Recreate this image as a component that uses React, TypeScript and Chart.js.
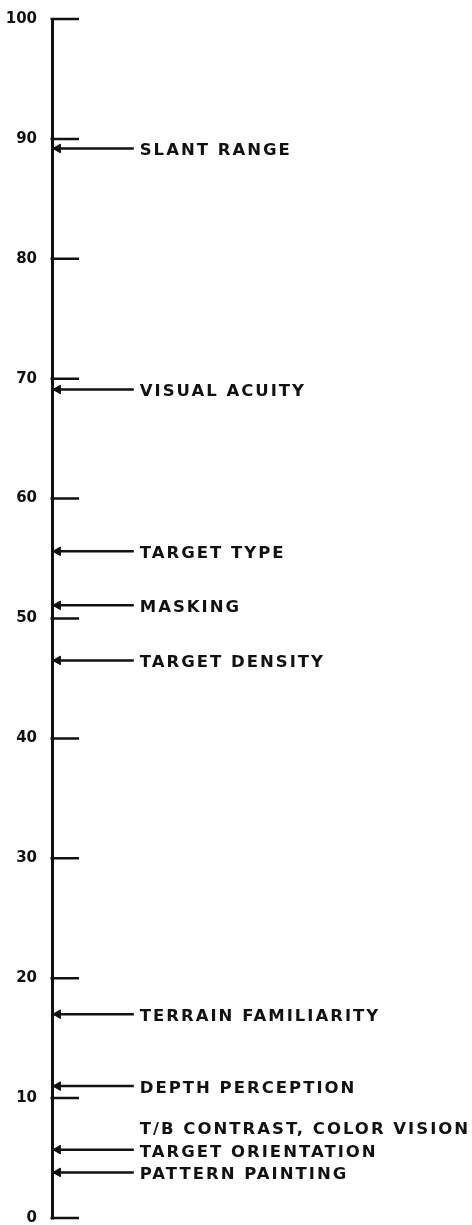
import React, { useEffect, useRef } from "react";
import { Chart, registerables } from "chart.js";

Chart.register(...registerables);

// ---- data ----
const AXIS_MIN = 0;
const AXIS_MAX = 100;
const AXIS_STEP = 10;

const FACTOR_LABELS = [
  "SLANT RANGE",
  "VISUAL ACUITY",
  "TARGET TYPE",
  "MASKING",
  "TARGET DENSITY",
  "TERRAIN FAMILIARITY",
  "DEPTH PERCEPTION",
  "TARGET ORIENTATION",
  "PATTERN PAINTING",
];
const FACTOR_VALUES = [89.2, 69.1, 55.6, 51.1, 46.5, 17.0, 11.0, 5.7, 3.8];

// label without an arrow
const NOTE_LABELS = ["T/B CONTRAST, COLOR VISION"];
const NOTE_VALUES = [7.6];

// ---- style ----
const INK = "#111111";
const W = 472;
const H = 1225;
const AXIS_X = 52; // width reserved for the y axis
const X_MAX = W - AXIS_X; // 1 unit = 1 px in the plot area
const ARROW_LEN = 83;
const HEAD_X = 6;
const LABEL_X = 89;
const TICK_LEN = 27;

const axisTickPlugin = {
  id: "inwardTicks",
  afterDraw(chart: any) {
    const { ctx } = chart;
    const ys = chart.scales.y;
    ctx.save();
    ctx.strokeStyle = INK;
    ctx.lineWidth = 2.5;
    ctx.lineCap = "butt";
    ctx.beginPath();
    ys.ticks.forEach((t: any) => {
      const py = ys.getPixelForValue(t.value);
      ctx.moveTo(ys.right - 1.5, py);
      ctx.lineTo(ys.right + TICK_LEN, py);
    });
    ctx.stroke();
    ctx.restore();
  },
};

const labelPlugin = {
  id: "factorLabels",
  afterDatasetsDraw(chart: any) {
    const { ctx, scales } = chart;
    const x = scales.x;
    const y = scales.y;
    ctx.save();
    ctx.font = 'bold 16.5px "DejaVu Sans"';
    (ctx as any).letterSpacing = "2px";
    ctx.fillStyle = INK;
    ctx.textAlign = "left";
    ctx.textBaseline = "alphabetic";
    const lx = x.getPixelForValue(LABEL_X);
    FACTOR_LABELS.forEach((t, i) => {
      ctx.fillText(t, lx, y.getPixelForValue(FACTOR_VALUES[i]) + 7);
    });
    NOTE_LABELS.forEach((t, i) => {
      ctx.fillText(t, lx, y.getPixelForValue(NOTE_VALUES[i]) + 7);
    });
    ctx.restore();
  },
};

export default function App() {
  const ref = useRef<HTMLCanvasElement | null>(null);

  useEffect(() => {
    if (!ref.current) return;
    const lineSets = FACTOR_VALUES.map((v, i) => ({
      type: "line" as const,
      label: FACTOR_LABELS[i],
      data: [
        { x: 0, y: v },
        { x: ARROW_LEN, y: v },
      ],
      borderColor: INK,
      borderWidth: 2.5,
      pointRadius: 0,
      fill: false,
    }));
    const heads = {
      type: "scatter" as const,
      label: "heads",
      data: FACTOR_VALUES.map((v) => ({ x: HEAD_X, y: v })),
      pointStyle: "triangle",
      rotation: -90,
      pointRadius: 5,
      backgroundColor: INK,
      borderColor: INK,
      borderWidth: 1,
    };

    const chart = new Chart(ref.current, {
      type: "line",
      data: { datasets: [...lineSets, heads] as any },
      options: {
        animation: false,
        responsive: false,
        maintainAspectRatio: false,
        layout: { padding: { top: 19, bottom: 7, left: 0, right: 0 } },
        plugins: {
          legend: { display: false },
          tooltip: { enabled: false },
        },
        scales: {
          x: {
            type: "linear",
            display: false,
            min: 0,
            max: X_MAX,
          },
          y: {
            type: "linear",
            position: "left",
            min: AXIS_MIN,
            max: AXIS_MAX,
            ticks: {
              stepSize: AXIS_STEP,
              color: INK,
              padding: 0,
              font: { family: "DejaVu Sans", weight: "bold", size: 15, lineHeight: 0.9 },
            },
            grid: {
              drawOnChartArea: false,
              drawTicks: true,
              tickLength: 15,
              tickColor: "rgba(0,0,0,0)",
              color: INK,
              lineWidth: 2.5,
            },
            border: { display: true, color: INK, width: 3 },
            afterFit: (s: any) => {
              s.width = AXIS_X;
            },
          },
        },
      } as any,
      plugins: [labelPlugin, axisTickPlugin],
    });
    return () => chart.destroy();
  }, []);

  return (
    <div style={{ position: "absolute", left: 0, top: 0, width: W, height: H, background: "#fff" }}>
      <canvas ref={ref} width={W} height={H} />
    </div>
  );
}
